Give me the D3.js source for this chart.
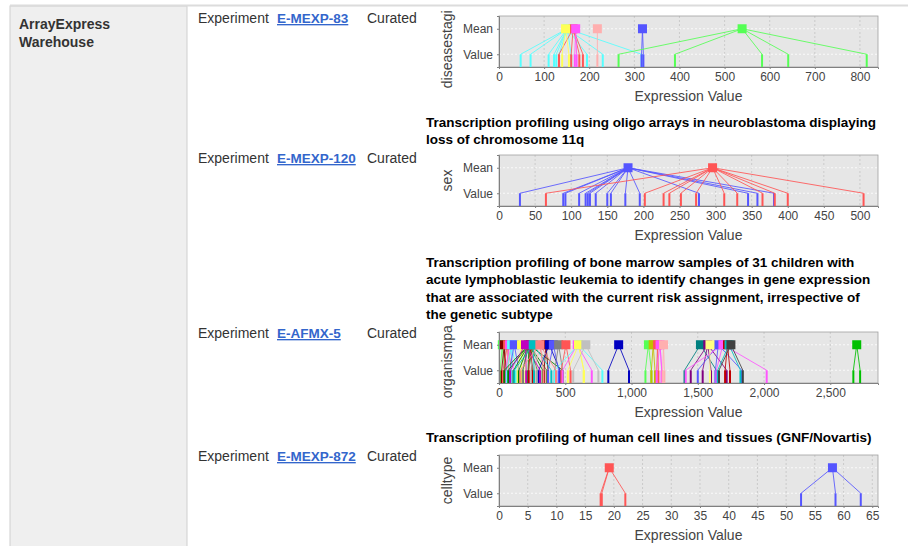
<!DOCTYPE html>
<html>
<head>
<meta charset="utf-8">
<script src="https://cdn.jsdelivr.net/npm/d3@7"></script>
<style>
  body { margin: 0; background: #fff; }
  svg { display: block; font-family: "Liberation Sans", Arial, sans-serif; }
</style>
</head>
<body>
<svg width="908" height="546"></svg>
<script>
// experiments listed in the table
const experiments = ["E-MEXP-83", "E-MEXP-120", "E-AFMX-5", "E-MEXP-872"];
const titles = [
  [],
  ["Transcription profiling using oligo arrays in neuroblastoma displaying",
   "loss of chromosome 11q"],
  ["Transcription profiling of bone marrow samples of 31 children with",
   "acute lymphoblastic leukemia to identify changes in gene expression",
   "that are associated with the current risk assignment, irrespective of",
   "the genetic subtype"],
  ["Transcription profiling of human cell lines and tissues (GNF/Novartis)"]
];
// factor names as they show in each chart image (long ones are cut at the image top)
const factors = ["diseasestaging", "sex", "organismpart", "celltype"];
const factorShown = ["diseasestagi", "sex", "organismpa", "celltype"];
const rows = ["Mean", "Value"];

// diseasestaging groups
const stageColors = ["#55ffff", "#ff5555", "#ffff55", "#ff55ff", "#ffafaf", "#5555ff", "#55ff55"];
const stageValues = [
  [48, 70, 110, 122, 127, 133, 160, 195, 230, 316],
  [133, 160, 178, 186],
  [140, 155],
  [168, 172],
  [218],
  [316, 320],
  [265, 390, 583, 641, 815]
];

// sex groups
const sexColors = ["#5555ff", "#ff5555"];
const sexValues = [
  [29, 89, 92, 111, 120, 123, 126, 134, 150, 155, 175, 195, 277, 345, 358, 381],
  [65, 202, 228, 236, 252, 273, 312, 330, 365, 382, 400, 505]
];

// organismpart groups
const organColors = ["#55ff55", "#800000", "#ff5555", "#ff55ff", "#55ffff", "#5555ff", "#ffff55", "#008000",
  "#808080", "#c00000", "#c0c0c0", "#ffafaf", "#800000", "#0000c0", "#5555ff", "#808080", "#ff5555",
  "#ff55ff", "#55ffff", "#ffff55", "#c0c0c0", "#0000c0", "#55ff55", "#c0c000", "#ff5555", "#ff55ff",
  "#ffafaf", "#008080", "#800080", "#5555ff", "#ff55ff", "#c00000", "#00c0c0", "#ffff80", "#404040", "#00c000",
  "#c000c0", "#00c0c0", "#ff8080"];
const organValues = [
  [10, 40], [20, 55, 45], [30, 95, 70], [50, 110], [60, 130, 95], [80, 150], [140, 200, 170],
  [40, 70, 110, 150, 180, 220, 250, 290, 330, 360, 480],
  [180, 260], [225, 250], [240, 290], [270, 350], [340, 370], [300, 460], [370, 450], [420, 480],
  [470, 540], [480, 700], [420, 780], [520, 640, 640], [560, 750], [825, 981],
  [1105, 1150], [1150, 1177], [1190, 1203], [1190, 1228, 1228], [1235, 1248],
  [1400, 1640], [1447, 1537, 1718, 1600], [1500, 1832, 1633], [1409, 2020, 1640],
  [1706, 1743], [1650, 1822], [1592], [1660, 1840], [2674, 2725],
  [85, 205, 310], [115, 265, 395], [160, 335, 430]
];

// celltype groups
const cellColors = ["#ff5555", "#5555ff"];
const cellValues = [
  [17.7, 17.9, 22.0],
  [52.6, 58.6, 63.0]
];

const svg = d3.select("svg");
const textColor = "#333";

// page frame
svg.append("rect").attr("x", 10).attr("y", 6).attr("width", 177).attr("height", 546)
  .attr("fill", "#efefef").attr("stroke", "#cfcfcf");
svg.append("line").attr("x1", 10).attr("x2", 908).attr("y1", 5.5).attr("y2", 5.5)
  .attr("stroke", "#dcdcdc").attr("stroke-width", 2);

svg.append("text").attr("x", 19).attr("y", 29).attr("font-size", 14).attr("font-weight", "bold")
  .attr("fill", textColor).text("ArrayExpress");
svg.append("text").attr("x", 19).attr("y", 47).attr("font-size", 14).attr("font-weight", "bold")
  .attr("fill", textColor).text("Warehouse");

const rowBase = [23, 163, 338, 461];
const titleBase = [0, 127, 267, 442];
const plotTops = [16, 155, 332, 455];

experiments.forEach((e, i) => {
  const t = svg.append("g").attr("font-size", 14);
  t.append("text").attr("x", 198).attr("y", rowBase[i]).attr("fill", textColor).text("Experiment");
  t.append("text").attr("x", 277).attr("y", rowBase[i]).attr("fill", "#3366cc").attr("font-size", 13.5)
    .attr("font-weight", "bold").attr("text-decoration", "underline").text(e);
  t.append("text").attr("x", 367).attr("y", rowBase[i]).attr("fill", textColor).text("Curated");
  titles[i].forEach((line, j) => {
    svg.append("text").attr("x", 426).attr("y", titleBase[i] + j * 17.3)
      .attr("font-size", 13.5).attr("font-weight", "bold").attr("fill", "#000").text(line);
  });
});

function drawChart(idx, max, colors, groups, fmt) {
  const left = 499, right = 878, top = plotTops[idx], bottom = top + 51;
  const x = d3.scaleLinear().domain([0, max]).range([left, right]);
  const y = d3.scalePoint().domain(rows).range([top, bottom]).padding(0.5);
  const g = svg.append("g");

  g.append("rect").attr("x", left).attr("y", top).attr("width", right - left).attr("height", bottom - top)
    .attr("fill", "#e6e6e6");

  const ticks = x.ticks(max > 2000 ? 6 : (max < 100 ? 14 : 10));
  g.selectAll(".vgrid").data(ticks.filter(d => d > 0)).join("line")
    .attr("x1", d => x(d)).attr("x2", d => x(d)).attr("y1", top).attr("y2", bottom)
    .attr("stroke", "#c4c4c4").attr("stroke-width", 0.8).attr("stroke-dasharray", "2,2");
  g.selectAll(".hgrid").data(rows).join("line")
    .attr("x1", left).attr("x2", right).attr("y1", d => y(d)).attr("y2", d => y(d))
    .attr("stroke", "#ffffff").attr("stroke-width", 0.8).attr("stroke-dasharray", "2,2");

  g.append("rect").attr("x", left).attr("y", top).attr("width", right - left).attr("height", bottom - top)
    .attr("fill", "none").attr("stroke", "#a0a0a0").attr("stroke-width", 0.8);

  const marks = g.append("g");
  const series = groups.map((vals, k) => ({ color: colors[k], mean: d3.mean(vals), vals }));

  series.forEach(s => {
    marks.selectAll(null).data(s.vals).join("line")
      .attr("x1", x(s.mean)).attr("y1", y("Mean"))
      .attr("x2", d => x(d)).attr("y2", y("Value"))
      .attr("stroke", s.color).attr("stroke-opacity", 0.85).attr("stroke-width", 1);
    marks.selectAll(null).data(s.vals).join("line")
      .attr("x1", d => x(d)).attr("x2", d => x(d))
      .attr("y1", y("Value")).attr("y2", bottom)
      .attr("stroke", s.color).attr("stroke-width", 2);
  });
  series.forEach(s => {
    marks.append("rect").attr("x", x(s.mean) - 4.5).attr("y", y("Mean") - 4.5)
      .attr("width", 9).attr("height", 9).attr("fill", s.color);
  });

  const xAxis = g.append("g").attr("transform", `translate(0,${bottom})`)
    .call(d3.axisBottom(x).tickValues(ticks).tickSize(2).tickPadding(3).tickFormat(fmt));
  xAxis.select(".domain").attr("stroke", "#808080");
  xAxis.selectAll(".tick line").attr("stroke", "#808080");
  xAxis.selectAll("text").attr("font-size", 12).attr("fill", "#444")
    .attr("font-family", "Liberation Sans, Arial, sans-serif");

  const yAxis = g.append("g").attr("transform", `translate(${left},0)`)
    .call(d3.axisLeft(y).tickSize(2).tickPadding(4));
  yAxis.select(".domain").attr("stroke", "#808080");
  yAxis.selectAll(".tick line").attr("stroke", "#808080");
  yAxis.selectAll("text").attr("font-size", 12).attr("fill", "#444")
    .attr("font-family", "Liberation Sans, Arial, sans-serif");

  g.append("text").attr("x", (left + right) / 2).attr("y", bottom + 34)
    .attr("text-anchor", "middle").attr("font-size", 14).attr("fill", "#444").text("Expression Value");

  // the factor label is centred on the plot by its full name, then shows what fits
  const probe = svg.append("text").attr("font-size", 14).text(factors[idx]);
  const fullLen = probe.node().getComputedTextLength();
  probe.remove();
  const start = (top + bottom) / 2 + fullLen / 2;
  g.append("text").attr("transform", `translate(452,${start}) rotate(-90)`)
    .attr("text-anchor", "start").attr("font-size", 14).attr("fill", "#444").text(factorShown[idx]);
}

drawChart(0, 840, stageColors, stageValues, d3.format("d"));
drawChart(1, 525, sexColors, sexValues, d3.format("d"));
drawChart(2, 2860, organColors, organValues, d3.format(","));
drawChart(3, 66, cellColors, cellValues, d3.format("d"));
</script>
</body>
</html>
